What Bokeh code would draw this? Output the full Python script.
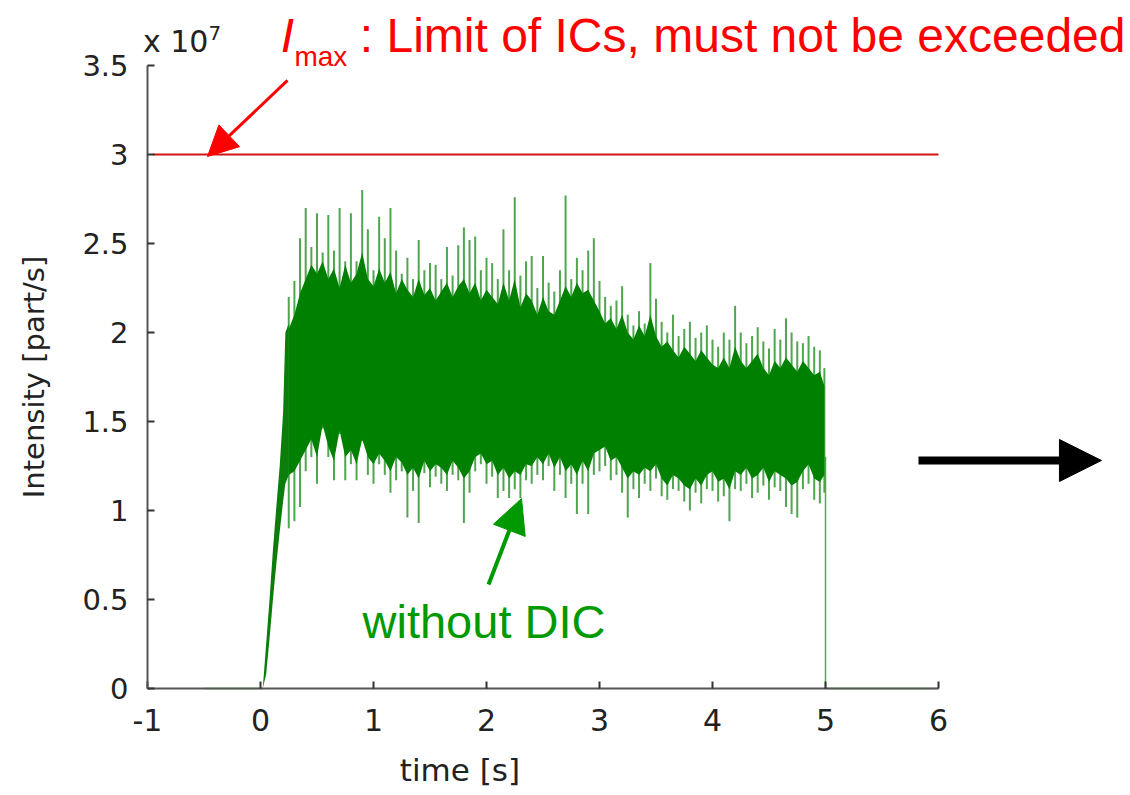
from bokeh.plotting import figure
from bokeh.models import (Range1d, FixedTicker, CustomJSTickFormatter, Label,
                          Arrow, NormalHead)
from bokeh.embed import file_html
from bokeh.resources import INLINE

# ---------------- data (intensity in units of 1e7 part/s) ----------------
lead_t = [-0.5, 0.0, 0.02]
lead_v = [0.0, 0.0, 0.0]

ramp_t = [0.02, 0.05, 0.08, 0.11, 0.14, 0.17, 0.20, 0.22, 0.25]
ramp_hi = [0.00, 0.25, 0.50, 0.78, 1.02, 1.25, 1.55, 2.00, 2.05]
ramp_lo = [0.00, 0.08, 0.28, 0.50, 0.70, 0.88, 1.05, 1.15, 1.20]

sample_t = [0.25, 0.30, 0.35, 0.40, 0.45, 0.50, 0.55, 0.60, 0.65, 0.70,
            0.75, 0.80, 0.85, 0.90, 0.95, 1.00, 1.05, 1.10, 1.15, 1.20,
            1.25, 1.30, 1.35, 1.40, 1.45, 1.50, 1.55, 1.60, 1.65, 1.70,
            1.75, 1.80, 1.85, 1.90, 1.95, 2.00, 2.05, 2.10, 2.15, 2.20,
            2.25, 2.30, 2.35, 2.40, 2.45, 2.50, 2.55, 2.60, 2.65, 2.70,
            2.75, 2.80, 2.85, 2.90, 2.95, 3.00, 3.05, 3.10, 3.15, 3.20,
            3.25, 3.30, 3.35, 3.40, 3.45, 3.50, 3.55, 3.60, 3.65, 3.70,
            3.75, 3.80, 3.85, 3.90, 3.95, 4.00, 4.05, 4.10, 4.15, 4.20,
            4.25, 4.30, 4.35, 4.40, 4.45, 4.50, 4.55, 4.60, 4.65, 4.70,
            4.75, 4.80, 4.85, 4.90, 4.95, 4.99]
# extreme excursions (spikes)
spike_hi = [2.20, 2.29, 2.53, 2.70, 2.48, 2.67, 2.45, 2.66, 2.46, 2.70,
            2.40, 2.67, 2.40, 2.80, 2.58, 2.35, 2.65, 2.53, 2.70, 2.46,
            2.33, 2.42, 2.30, 2.52, 2.35, 2.39, 2.38, 2.30, 2.48, 2.32,
            2.49, 2.59, 2.52, 2.54, 2.35, 2.42, 2.39, 2.30, 2.58, 2.35,
            2.76, 2.32, 2.40, 2.43, 2.25, 2.43, 2.28, 2.23, 2.35, 2.77,
            2.30, 2.42, 2.35, 2.46, 2.53, 2.29, 2.20, 2.15, 2.18, 2.26,
            2.10, 2.04, 2.12, 2.05, 2.39, 2.19, 2.06, 2.00, 2.10, 1.98,
            2.02, 2.06, 1.97, 2.00, 2.04, 1.96, 1.92, 2.00, 1.96, 2.15,
            2.00, 1.94, 1.98, 2.03, 1.95, 1.91, 2.02, 1.96, 2.08, 2.00,
            1.95, 1.94, 1.98, 1.92, 1.90, 1.80]
spike_lo = [0.90, 0.94, 1.02, 1.22, 1.30, 1.15, 1.46, 1.30, 1.17, 1.43,
            1.17, 1.26, 1.17, 1.39, 1.20, 1.15, 1.26, 1.20, 1.10, 1.17,
            1.22, 0.96, 1.11, 0.93, 1.21, 1.13, 1.19, 1.15, 1.11, 1.20,
            1.17, 0.93, 1.10, 1.22, 1.26, 1.15, 1.19, 1.07, 1.11, 1.07,
            1.12, 1.07, 1.17, 1.15, 1.20, 1.17, 1.25, 1.11, 1.20, 1.07,
            1.15, 0.98, 1.15, 0.98, 1.20, 1.22, 1.25, 1.17, 1.20, 1.10,
            0.96, 1.12, 1.07, 1.15, 1.11, 1.18, 1.08, 1.06, 1.12, 1.11,
            1.05, 1.00, 1.10, 1.04, 1.12, 1.11, 1.05, 1.08, 0.94, 1.12,
            1.11, 1.15, 1.07, 1.10, 1.14, 1.06, 1.13, 1.11, 1.02, 0.98,
            0.96, 1.12, 1.15, 1.06, 1.04, 1.10]
# dense band of the signal
core_top = [2.02, 2.10, 2.22, 2.30, 2.38, 2.33, 2.40, 2.30, 2.36, 2.25,
            2.38, 2.28, 2.33, 2.45, 2.30, 2.26, 2.36, 2.28, 2.34, 2.22,
            2.30, 2.24, 2.20, 2.30, 2.21, 2.25, 2.18, 2.23, 2.28, 2.20,
            2.26, 2.30, 2.22, 2.28, 2.18, 2.24, 2.20, 2.16, 2.28, 2.18,
            2.30, 2.14, 2.22, 2.18, 2.10, 2.20, 2.12, 2.10, 2.18, 2.26,
            2.20, 2.28, 2.22, 2.24, 2.18, 2.12, 2.05, 2.08, 2.02, 2.10,
            2.00, 1.96, 2.04, 1.98, 2.10, 1.98, 1.92, 1.95, 1.90, 1.86,
            1.92, 1.88, 1.84, 1.90, 1.86, 1.82, 1.80, 1.86, 1.80, 1.92,
            1.84, 1.80, 1.84, 1.88, 1.80, 1.76, 1.84, 1.80, 1.86, 1.82,
            1.78, 1.84, 1.80, 1.76, 1.78, 1.70]
core_bot = [1.20, 1.22, 1.28, 1.34, 1.40, 1.30, 1.48, 1.36, 1.28, 1.45,
            1.30, 1.34, 1.26, 1.40, 1.30, 1.26, 1.32, 1.28, 1.22, 1.30,
            1.27, 1.20, 1.24, 1.18, 1.28, 1.22, 1.26, 1.24, 1.20, 1.28,
            1.24, 1.18, 1.22, 1.30, 1.32, 1.26, 1.28, 1.20, 1.24, 1.18,
            1.22, 1.20, 1.26, 1.25, 1.30, 1.26, 1.32, 1.24, 1.30, 1.22,
            1.26, 1.20, 1.28, 1.22, 1.32, 1.34, 1.36, 1.28, 1.30, 1.24,
            1.18, 1.22, 1.20, 1.24, 1.22, 1.26, 1.18, 1.14, 1.20, 1.18,
            1.14, 1.12, 1.18, 1.14, 1.20, 1.22, 1.16, 1.18, 1.12, 1.22,
            1.20, 1.24, 1.18, 1.20, 1.24, 1.16, 1.22, 1.20, 1.18, 1.14,
            1.16, 1.22, 1.26, 1.18, 1.16, 1.20]

tail_t = [5.0, 5.0, 6.0]
tail_v = [1.30, 0.0, 0.0]

limit_t = [-0.95, 6.0]
limit_v = [3.0, 3.0]

x_ticks = [-1, 0, 1, 2, 3, 4, 5, 6]
y_ticks = [0, 0.5, 1, 1.5, 2, 2.5, 3, 3.5]

# ---------------- figure ----------------
W, H = 1128, 792
X_AXIS_PAGE = 147.0           # page x of time = -1
PX_X = 113.0                  # pixels per second
PX_Y = 178.0                  # pixels per 1e7 part/s
Y0_PAGE = 688.0               # page y of intensity 0

x_start = -1 - X_AXIS_PAGE / PX_X
p = figure(width=W, height=H, output_backend="svg", toolbar_location=None,
           x_range=Range1d(x_start, x_start + W / PX_X),
           y_range=Range1d(-(H - Y0_PAGE) / PX_Y, Y0_PAGE / PX_Y),
           min_border_left=0, min_border_right=0,
           min_border_top=0, min_border_bottom=0)
p.outline_line_color = None
p.grid.visible = False
p.background_fill_color = "white"

AX_FONT = "DejaVu Sans"
for ax in (p.xaxis[0], p.yaxis[0]):
    ax.axis_line_color = "#555555"
    ax.axis_line_width = 2
    ax.major_tick_line_color = "#333333"
    ax.major_tick_line_width = 2
    ax.major_tick_in = 7
    ax.major_tick_out = 0
    ax.minor_tick_line_color = None
    ax.major_label_text_font = AX_FONT
    ax.major_label_text_color = "#222222"
    ax.formatter = CustomJSTickFormatter(code="return String(tick);")

xa = p.xaxis[0]
xa.fixed_location = 0
xa.bounds = (-1, 6)
xa.ticker = FixedTicker(ticks=x_ticks)
xa.major_label_text_font_size = "30px"
xa.major_label_standoff = 20

ya = p.yaxis[0]
ya.fixed_location = -1
ya.bounds = (0, 3.5)
ya.ticker = FixedTicker(ticks=y_ticks)
ya.major_label_text_font_size = "29px"
ya.major_label_standoff = 19
ya.axis_label = "Intensity [part/s]"
ya.axis_label_text_font = AX_FONT
ya.axis_label_text_font_size = "29px"
ya.axis_label_text_font_style = "normal"
ya.axis_label_text_color = "#222222"
ya.axis_label_standoff = 28

# ---------------- signal ----------------
p.line(lead_t, lead_v, line_color="#4caf4c", line_width=1.5)
p.line(tail_t, tail_v, line_color="#4caf4c", line_width=1.5)
p.segment(x0=sample_t, y0=spike_lo, x1=sample_t, y1=spike_hi,
          line_color="#3c9c3c", line_width=2, line_alpha=0.9)
p.varea(x=ramp_t, y1=ramp_lo, y2=ramp_hi, fill_color="#0a7d0a")
p.varea(x=sample_t, y1=core_bot, y2=core_top, fill_color="#008000")
p.line(limit_t, limit_v, line_color="#d01515", line_width=2)

# ---------------- annotations (text bottom = baseline + descent) ----------------
def label(**kw):
    kw.setdefault("text_baseline", "bottom")
    p.add_layout(Label(**kw))

label(x=0.18, y=3.517, text="I", text_font="Liberation Sans",
      text_font_size="48px", text_font_style="italic", text_color="#ff0000")
label(x=0.30, y=3.461, text="max", text_font="Liberation Sans",
      text_font_size="28px", text_color="#ff0000")
label(x=7.655, y=3.517, text=": Limit of ICs, must not be exceeded",
      text_font="Liberation Sans", text_font_size="48px",
      text_color="#ff0000", text_align="right")
label(x=-1.04, y=3.535, text="x 10", text_font=AX_FONT,
      text_font_size="30px", text_color="#222222")
label(x=-0.46, y=3.645, text="7", text_font=AX_FONT,
      text_font_size="20px", text_color="#222222")
label(x=1.765, y=-0.559, text="time [s]", text_font=AX_FONT,
      text_font_size="31px", text_color="#222222", text_align="center")
label(x=0.903, y=0.230, text="without DIC", text_font="Liberation Sans",
      text_font_size="47px", text_color="#009900")

p.add_layout(Arrow(end=NormalHead(size=30, fill_color="#ff0000", line_color="#ff0000"),
                   x_start=0.239, y_start=3.416, x_end=-0.469, y_end=2.989,
                   line_color="#ff0000", line_width=3))
p.add_layout(Arrow(end=NormalHead(size=34, fill_color="#009900", line_color="#009900"),
                   x_start=2.018, y_start=0.584, x_end=2.310, y_end=1.067,
                   line_color="#009900", line_width=4))
p.add_layout(Arrow(end=NormalHead(size=42, fill_color="#000000", line_color="#000000"),
                   x_start=5.823, y_start=1.281, x_end=7.442, y_end=1.281,
                   line_color="#000000", line_width=8))

open("out.html", "w").write(file_html(p, INLINE))
